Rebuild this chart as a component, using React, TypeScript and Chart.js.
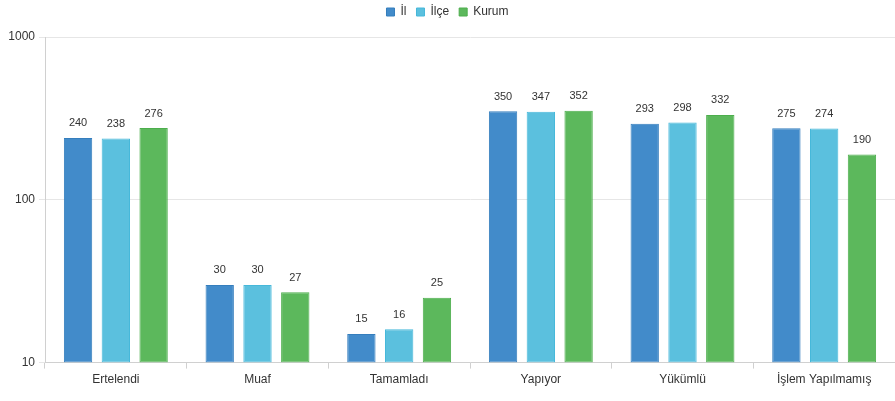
import React, { useEffect, useRef } from "react";
import { Chart, registerables } from "chart.js";

Chart.register(...registerables);

const categories = ["Ertelendi", "Muaf", "Tamamladı", "Yapıyor", "Yükümlü", "İşlem Yapılmamış"];
const ilValues = [240, 30, 15, 350, 293, 275];
const ilceValues = [238, 30, 16, 347, 298, 274];
const kurumValues = [276, 27, 25, 352, 332, 190];
const seriesNames = ["İl", "İlçe", "Kurum"];
const yTicks = [10, 100, 1000];

const FONT = "'Liberation Sans', Arial, sans-serif";

const valueLabels = {
  id: "valueLabels",
  beforeInit(chart: any) {
    const lg = chart.legend;
    if (lg) {
      const orig = lg.fit;
      lg.fit = function () {
        orig.call(this);
        this.height += 9;
      };
    }
  },
  afterDatasetsDraw(chart: any) {
    const ctx = chart.ctx;
    ctx.save();
    ctx.font = "11px " + FONT;
    ctx.fillStyle = "#333333";
    ctx.textAlign = "center";
    ctx.textBaseline = "bottom";
    chart.data.datasets.forEach((ds: any, i: number) => {
      const meta = chart.getDatasetMeta(i);
      meta.data.forEach((bar: any, j: number) => {
        ctx.fillText(String(ds.data[j]), bar.x, bar.y - 9);
      });
    });
    ctx.restore();
  },
};

export default function App() {
  const ref = useRef<HTMLCanvasElement>(null);
  useEffect(() => {
    const mk = (label: string, data: number[], bg: string, border: string) => ({
      label,
      data,
      backgroundColor: bg,
      borderColor: border,
      borderWidth: 1,
      borderSkipped: false,
      categoryPercentage: 0.8,
      barPercentage: 0.75,
    });
    const chart = new Chart(ref.current!, {
      type: "bar",
      data: {
        labels: categories,
        datasets: [
          mk(seriesNames[0], ilValues, "#428bca", "#357ebd"),
          mk(seriesNames[1], ilceValues, "#5bc0de", "#46b8da"),
          mk(seriesNames[2], kurumValues, "#5cb85c", "#4cae4c"),
        ],
      },
      plugins: [valueLabels],
      options: {
        animation: false,
        responsive: false,
        maintainAspectRatio: false,
        layout: { padding: { left: 0, right: 0, top: -4, bottom: 10 } },
        plugins: {
          legend: {
            position: "top",
            labels: {
              boxWidth: 8,
              boxHeight: 8,
              color: "#333333",
              font: { family: FONT, size: 12 },
              padding: 10,
            },
          },
          tooltip: { enabled: false },
        },
        scales: {
          x: {
            offset: true,
            grid: {
              offset: true,
              drawOnChartArea: false,
              drawTicks: true,
              tickLength: 6,
              color: "#d0d0d0",
            },
            border: { color: "#d0d0d0" },
            ticks: { color: "#333333", font: { family: FONT, size: 12 }, padding: 4 },
          },
          y: {
            type: "logarithmic",
            min: 10,
            max: 1000,
            afterBuildTicks: (s: any) => {
              s.ticks = yTicks.map((v) => ({ value: v }));
            },
            afterFit: (s: any) => {
              s.width = 45;
            },
            grid: { color: "#e6e6e6", tickLength: 6, drawTicks: true },
            border: { color: "#d0d0d0" },
            ticks: {
              color: "#333333",
              font: { family: FONT, size: 12 },
              padding: 4,
              callback: (v: any) => String(v),
            },
          },
        },
      },
    });
    return () => chart.destroy();
  }, []);
  return (
    <div style={{ position: "fixed", left: 0, top: 0, width: 895, height: 401, background: "#fff" }}>
      <canvas ref={ref} width={895} height={401} />
    </div>
  );
}
